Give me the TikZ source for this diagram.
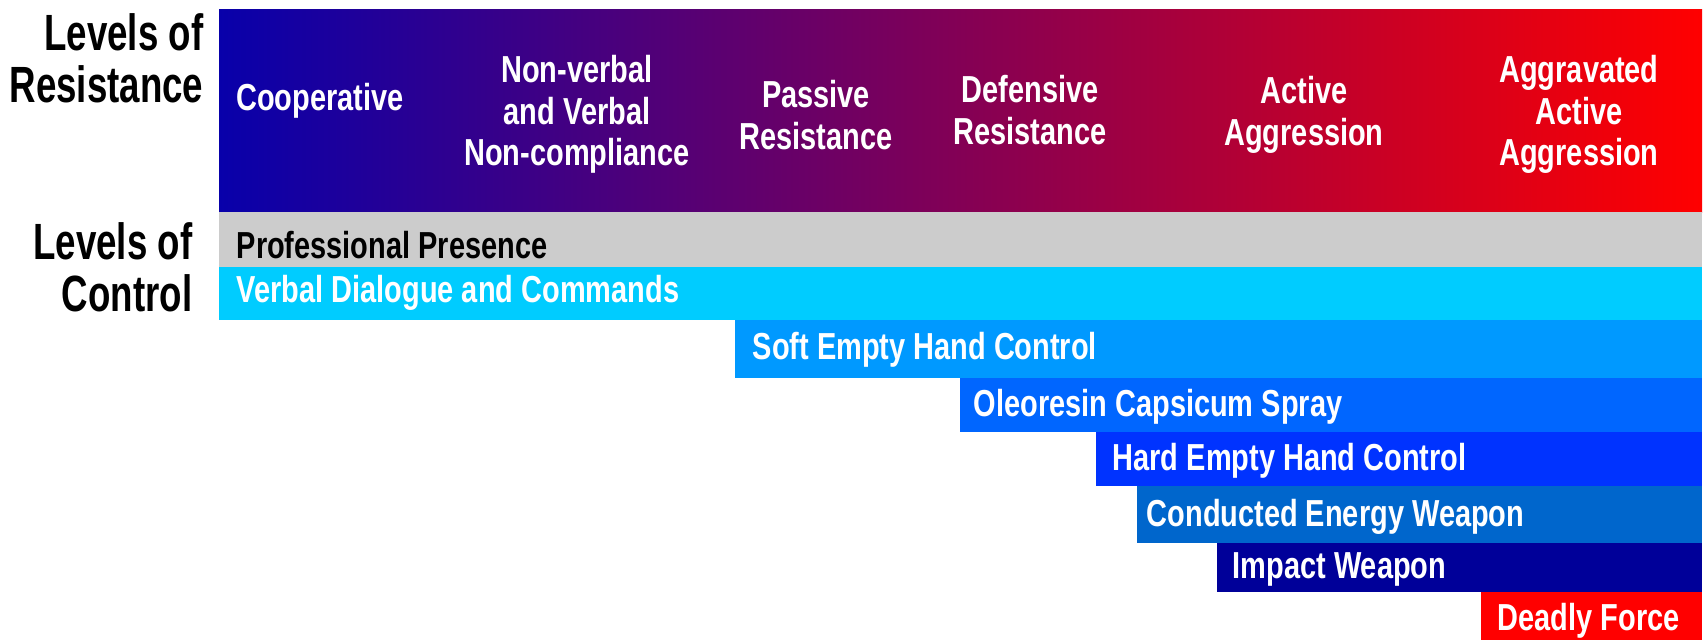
\documentclass[tikz,border=0pt]{standalone}
\usepackage{fontspec}
\newfontfamily\bandfont[FakeStretch=0.77]{Liberation Sans}
\newfontfamily\levelfont[FakeStretch=0.72]{Liberation Sans}
\definecolor{resistblue}{RGB}{8,0,170}
\definecolor{presgray}{RGB}{204,204,204}
\definecolor{verbalcyan}{RGB}{0,204,255}
\definecolor{softblue}{RGB}{0,153,255}
\definecolor{sprayblue}{RGB}{0,102,255}
\definecolor{hardblue}{RGB}{0,51,255}
\definecolor{cewblue}{RGB}{0,102,204}
\definecolor{impactblue}{RGB}{0,0,153}
\definecolor{deadlyred}{RGB}{255,0,0}
\tikzset{
  bandtext/.style={inner sep=0pt, text=white, align=center, anchor=north,
    font=\bandfont\bfseries\fontsize{10.7}{11.7}\selectfont},
  bartext/.style={inner sep=0pt, text=white, anchor=base west,
    font=\bandfont\bfseries\fontsize{10.7}{11.7}\selectfont},
  leveltext/.style={inner sep=0pt, align=right, anchor=north east,
    font=\levelfont\bfseries\fontsize{14.5}{14.8}\selectfont}
}
\begin{document}
\begin{tikzpicture}
                \useasboundingbox (0, 0) rectangle (17.04, 6.4);

                  \shade[left color=resistblue, right color=red] (2.19, 4.28) rectangle (17.02, 6.31);
                     \node[leveltext] (resist) at (2.04, 6.27){Levels of\\Resistance};
                     \node[bandtext] (coop) at (3.20, 5.57){Cooperative};
                     \node[bandtext] (noncomp) at (5.77, 5.85){Non-verbal\\and Verbal\\Non-compliance};
                     \node[bandtext] (passive) at (8.16, 5.60){Passive\\Resistance};
                     \node[bandtext] (defensive) at (10.30, 5.65){Defensive\\Resistance};
                     \node[bandtext] (active) at (13.04, 5.64){Active\\Aggression};
                     \node[bandtext] (aggravated) at (15.79, 5.85){Aggravated\\Active\\Aggression};

                  \node[leveltext] (control) at (1.93, 4.18){Levels of\\Control};
                  \fill[presgray] (2.19, 3.73) rectangle (17.02, 4.28);
                     \node[bartext, text=black] (presence) at (2.36, 3.82){Professional Presence};
                  \fill[verbalcyan] (2.19, 3.20) rectangle (17.02, 3.73);
                     \node[bartext] (verbal) at (2.36, 3.38){Verbal Dialogue and Commands};
                  \fill[softblue] (7.35, 2.62) rectangle (17.02, 3.20);
                     \node[bartext] (soft) at (7.52, 2.81){Soft Empty Hand Control};
                  \fill[sprayblue] (9.60, 2.08) rectangle (17.02, 2.62);
                     \node[bartext] (spray) at (9.73, 2.24){Oleoresin Capsicum Spray};
                  \fill[hardblue] (10.96, 1.54) rectangle (17.02, 2.08);
                     \node[bartext] (hard) at (11.12, 1.70){Hard Empty Hand Control};
                  \fill[cewblue] (11.37, 0.97) rectangle (17.02, 1.54);
                     \node[bartext] (cew) at (11.46, 1.14){Conducted Energy Weapon};
                  \fill[impactblue] (12.17, 0.48) rectangle (17.02, 0.97);
                     \node[bartext] (impact) at (12.32, 0.62){Impact Weapon};
                  \fill[deadlyred] (14.81, 0) rectangle (17.02, 0.48);
                     \node[bartext] (deadly) at (14.97, 0.10){Deadly Force};

                \end{tikzpicture}
\end{document}
